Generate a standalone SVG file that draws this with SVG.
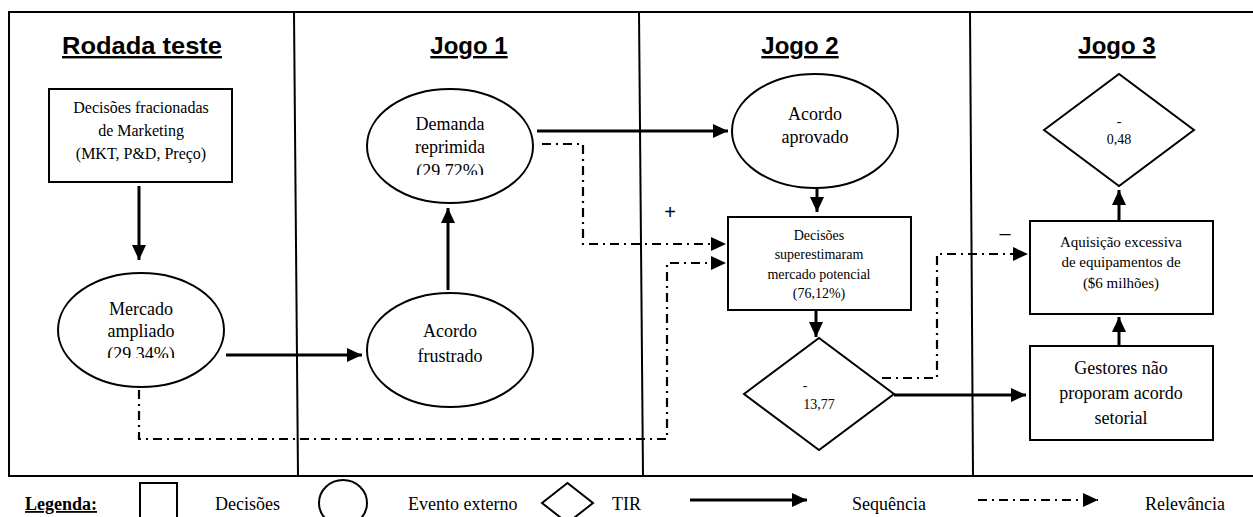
<svg xmlns="http://www.w3.org/2000/svg" width="1253" height="517" viewBox="0 0 1253 517">
<style>
.frame{stroke:#000;stroke-width:2;fill:none}
.shape{stroke:#000;stroke-width:2;fill:#fff}
.seq{stroke:#000;stroke-width:3;fill:none}
.rel{stroke:#000;stroke-width:2.2;fill:none;stroke-dasharray:9 5 2 5}
.title{font-family:"Liberation Sans",Arial,sans-serif;font-weight:bold;font-size:24px;text-decoration:underline;text-anchor:middle}
.t18{font-family:"Liberation Serif","Times New Roman",serif;font-size:18px;text-anchor:middle}
.t16{font-family:"Liberation Serif","Times New Roman",serif;font-size:16px;text-anchor:middle}
.t15{font-family:"Liberation Serif","Times New Roman",serif;font-size:15px;text-anchor:middle}
.t14{font-family:"Liberation Serif","Times New Roman",serif;font-size:14px;text-anchor:middle}
.leg{font-family:"Liberation Serif","Times New Roman",serif;font-size:18px}
.sign{font-family:"Liberation Sans",Arial,sans-serif;font-size:20px;text-anchor:middle}
</style>
<defs>
<marker id="ah" markerUnits="userSpaceOnUse" markerWidth="16" markerHeight="15" refX="15" refY="7" orient="auto">
<path d="M0,0 L15,7 L0,14 Z" fill="#000"/>
</marker>
<clipPath id="c1"><rect x="50" y="280" width="180" height="78"/></clipPath>
<clipPath id="c2"><rect x="360" y="90" width="180" height="85"/></clipPath>
</defs>
<rect width="1253" height="517" fill="#fff"/>

<g id="frame">
<path class="frame" d="M1253,12 H9 V476 H1253"/>
<line class="frame" x1="294" y1="12" x2="298" y2="476"/>
<line class="frame" x1="639" y1="12" x2="643" y2="476"/>
<line class="frame" x1="970" y1="12" x2="973" y2="476"/>
</g>

<g id="titles">
<text class="title" x="142" y="54" textLength="160" lengthAdjust="spacingAndGlyphs">Rodada teste</text>
<text class="title" x="469" y="54">Jogo 1</text>
<text class="title" x="800" y="54">Jogo 2</text>
<text class="title" x="1117" y="54">Jogo 3</text>
</g>

<g id="connectors">
<line class="seq" x1="139" y1="186" x2="139" y2="260" marker-end="url(#ah)"/>
<line class="seq" x1="226" y1="355" x2="362" y2="355" marker-end="url(#ah)"/>
<line class="seq" x1="448" y1="290" x2="448" y2="208" marker-end="url(#ah)"/>
<line class="seq" x1="537" y1="131" x2="728" y2="131" marker-end="url(#ah)"/>
<line class="seq" x1="817" y1="189" x2="817" y2="212" marker-end="url(#ah)"/>
<line class="seq" x1="816" y1="311" x2="816" y2="337" marker-end="url(#ah)"/>
<line class="seq" x1="894" y1="395" x2="1026" y2="395" marker-end="url(#ah)"/>
<line class="seq" x1="1119" y1="346" x2="1119" y2="317" marker-end="url(#ah)"/>
<line class="seq" x1="1119" y1="221" x2="1119" y2="190" marker-end="url(#ah)"/>
<path class="rel" d="M542,144 H583 V244 H726" marker-end="url(#ah)"/>
<path class="rel" d="M139,390 V439 H667 V263 H726" marker-end="url(#ah)"/>
<path class="rel" d="M882,378 H937 V254 H1028" marker-end="url(#ah)"/>
<text class="sign" x="670" y="219">+</text>
<text class="sign" x="1005" y="240">–</text>
</g>

<g id="n-decisoes-fracionadas">
<rect class="shape" x="49" y="89" width="183" height="93"/>
<text class="t16" x="141" y="113">Decisões fracionadas</text>
<text class="t16" x="141" y="136">de Marketing</text>
<text class="t16" x="141" y="159">(MKT, P&amp;D, Preço)</text>
</g>

<g id="n-mercado-ampliado">
<ellipse class="shape" cx="141" cy="330" rx="83" ry="57"/>
<text class="t18" x="141" y="315">Mercado</text>
<text class="t18" x="141" y="337">ampliado</text>
<text class="t18" x="141" y="360" clip-path="url(#c1)">(29.34%)</text>
</g>

<g id="n-demanda-reprimida">
<ellipse class="shape" cx="450" cy="146" rx="83" ry="57"/>
<text class="t18" x="450" y="130">Demanda</text>
<text class="t18" x="450" y="153">reprimida</text>
<text class="t18" x="450" y="177" clip-path="url(#c2)">(29.72%)</text>
</g>

<g id="n-acordo-frustrado">
<ellipse class="shape" cx="450" cy="350" rx="83" ry="57"/>
<text class="t18" x="450" y="337">Acordo</text>
<text class="t18" x="450" y="362">frustrado</text>
</g>

<g id="n-acordo-aprovado">
<ellipse class="shape" cx="815" cy="131" rx="83" ry="57"/>
<text class="t18" x="815" y="120">Acordo</text>
<text class="t18" x="815" y="143">aprovado</text>
</g>

<g id="n-decisoes-superestimaram">
<rect class="shape" x="728" y="217" width="183" height="93"/>
<text class="t14" x="819" y="240">Decisões</text>
<text class="t14" x="819" y="259">superestimaram</text>
<text class="t14" x="819" y="279">mercado potencial</text>
<text class="t14" x="819" y="298">(76,12%)</text>
</g>

<g id="n-tir-1377">
<path class="shape" d="M744,394 L819,338 L894,394 L819,450 Z"/>
<text class="t14" x="805" y="390">-</text>
<text class="t14" x="819" y="409">13,77</text>
</g>

<g id="n-aquisicao">
<rect class="shape" x="1030" y="221" width="183" height="93"/>
<text class="t15" x="1121" y="247">Aquisição excessiva</text>
<text class="t15" x="1121" y="267">de equipamentos de</text>
<text class="t15" x="1121" y="288">($6 milhões)</text>
</g>

<g id="n-tir-048">
<path class="shape" d="M1044,130 L1119,74 L1194,130 L1119,186 Z"/>
<text class="t14" x="1119" y="126">-</text>
<text class="t14" x="1119" y="144">0,48</text>
</g>

<g id="n-gestores">
<rect class="shape" x="1030" y="346" width="183" height="94"/>
<text class="t18" x="1121" y="374">Gestores não</text>
<text class="t18" x="1121" y="399">proporam acordo</text>
<text class="t18" x="1121" y="424">setorial</text>
</g>

<g id="legend">
<text class="leg" x="25" y="510" font-weight="bold" text-decoration="underline">Legenda:</text>
<rect class="shape" x="140" y="483" width="37" height="45"/>
<text class="leg" x="215" y="510">Decisões</text>
<ellipse class="shape" cx="343" cy="503" rx="24" ry="23"/>
<text class="leg" x="408" y="510">Evento externo</text>
<path class="shape" d="M542,503 L567.5,483 L593,503 L567.5,523 Z"/>
<text class="leg" x="612" y="510">TIR</text>
<line class="seq" x1="690" y1="500" x2="807" y2="500" marker-end="url(#ah)"/>
<text class="leg" x="852" y="510">Sequência</text>
<line class="rel" x1="978" y1="500" x2="1098" y2="500" marker-end="url(#ah)"/>
<text class="leg" x="1145" y="510">Relevância</text>
</g>
</svg>
